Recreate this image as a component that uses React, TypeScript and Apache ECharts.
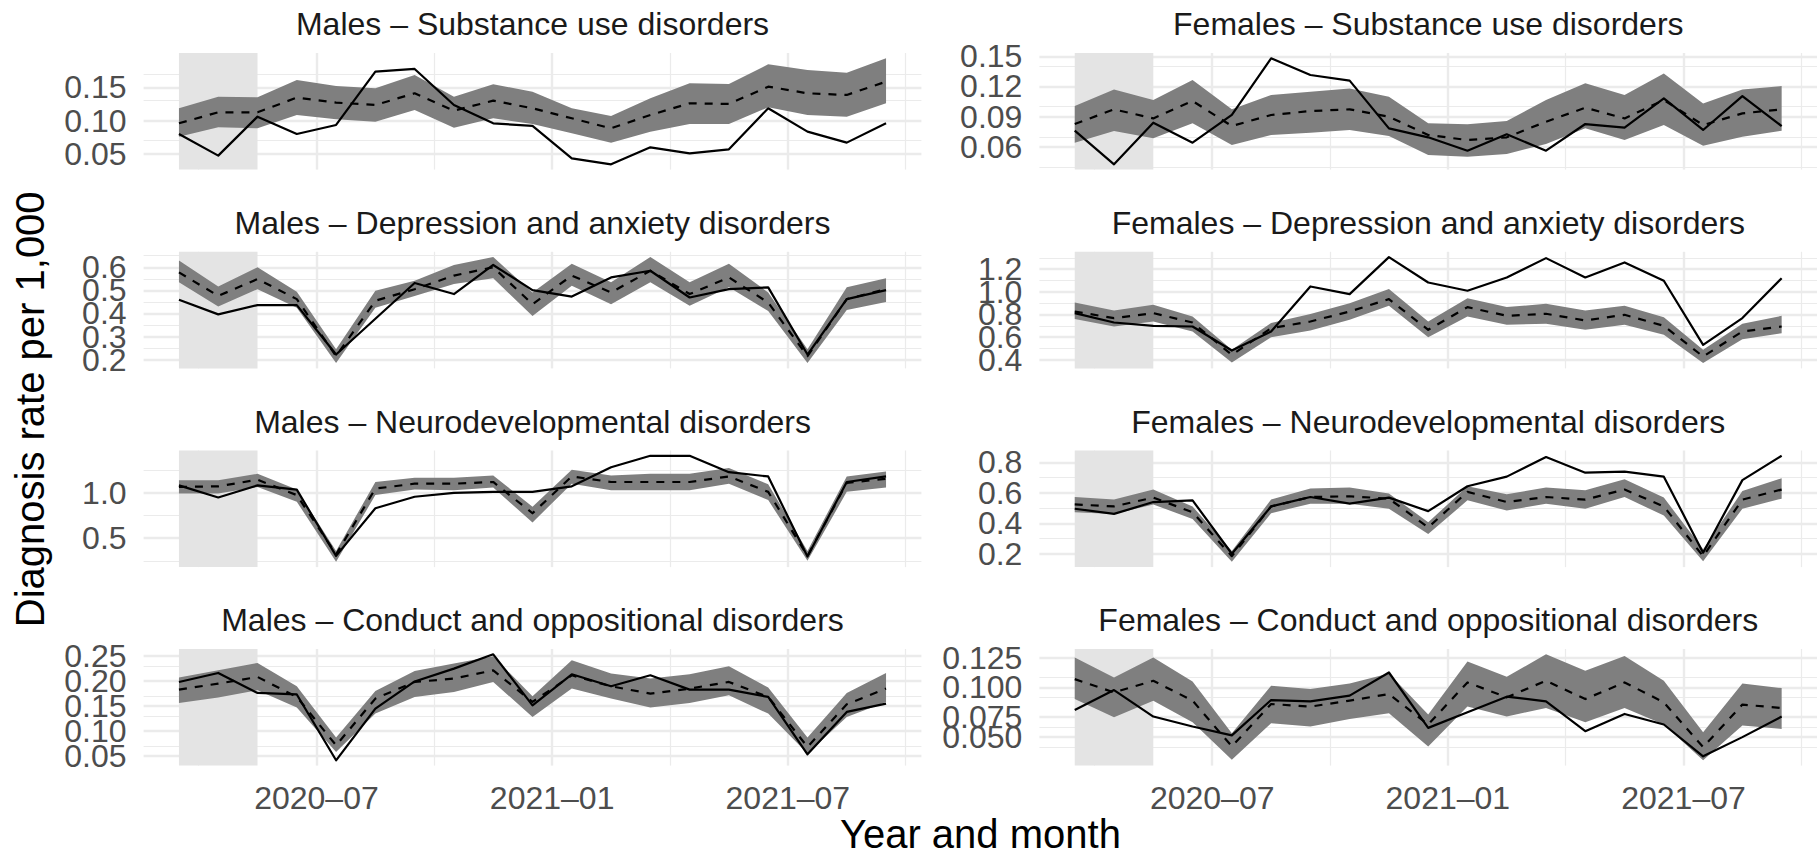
import React, { useEffect, useRef } from "react";
import * as echarts from "echarts";

// ---------- data ----------
const months = [
  "2020-03", "2020-04", "2020-05", "2020-06", "2020-07", "2020-08", "2020-09", "2020-10",
  "2020-11", "2020-12", "2021-01", "2021-02", "2021-03", "2021-04", "2021-05", "2021-06",
  "2021-07", "2021-08", "2021-09",
];
const shadeMonths = ["2020-03", "2020-05"];
const xMajorTicks = ["2020-07", "2021-01", "2021-07"];
const xMinorTicks = ["2020-04", "2020-10", "2021-04", "2021-10"];

const titles = [
  "Males – Substance use disorders",
  "Females – Substance use disorders",
  "Males – Depression and anxiety disorders",
  "Females – Depression and anxiety disorders",
  "Males – Neurodevelopmental disorders",
  "Females – Neurodevelopmental disorders",
  "Males – Conduct and oppositional disorders",
  "Females – Conduct and oppositional disorders",
];

// Males – Substance use
const mSubObs = [0.080, 0.0475, 0.106, 0.080, 0.0935, 0.1735, 0.1775, 0.1235, 0.096, 0.092, 0.0435, 0.0345, 0.060, 0.051, 0.057, 0.1185, 0.0835, 0.067, 0.096];
const mSubExp = [0.096, 0.1125, 0.1125, 0.1345, 0.127, 0.1235, 0.141, 0.115, 0.13, 0.1185, 0.1035, 0.0885, 0.1085, 0.126, 0.125, 0.151, 0.141, 0.1385, 0.1585];
const mSubLo = [0.076, 0.09, 0.0885, 0.1085, 0.102, 0.0985, 0.116, 0.0895, 0.1035, 0.095, 0.081, 0.067, 0.0835, 0.095, 0.095, 0.12, 0.1085, 0.106, 0.126];
const mSubHi = [0.1185, 0.136, 0.135, 0.161, 0.152, 0.1485, 0.1685, 0.136, 0.1545, 0.1435, 0.1185, 0.107, 0.1335, 0.156, 0.155, 0.1845, 0.176, 0.172, 0.1935];
const mSubMajor = [0.05, 0.10, 0.15];
const mSubMinor = [0.075, 0.125, 0.175];

// Females – Substance use
const fSubObs = [0.0761, 0.0427, 0.084, 0.0642, 0.0917, 0.148, 0.1314, 0.1258, 0.0784, 0.0695, 0.0562, 0.0725, 0.0562, 0.0827, 0.0791, 0.1082, 0.0768, 0.1105, 0.0807];
const fSubExp = [0.0827, 0.0973, 0.0883, 0.1056, 0.0807, 0.0917, 0.0956, 0.0973, 0.09, 0.0718, 0.0668, 0.0695, 0.085, 0.0989, 0.0883, 0.1066, 0.0817, 0.0933, 0.0973];
const fSubLo = [0.0642, 0.0758, 0.0685, 0.0834, 0.0619, 0.0718, 0.0741, 0.0768, 0.0708, 0.0519, 0.0503, 0.0529, 0.0629, 0.0784, 0.0668, 0.0817, 0.0612, 0.0701, 0.0761];
const fSubHi = [0.1006, 0.1171, 0.1066, 0.1264, 0.0973, 0.1115, 0.1148, 0.1181, 0.1099, 0.0834, 0.0824, 0.0857, 0.1066, 0.1231, 0.1115, 0.133, 0.1032, 0.1171, 0.1204];
const fSubMajor = [0.06, 0.09, 0.12, 0.15];
const fSubMinor = [0.045, 0.075, 0.105, 0.135];

// Males – Depression and anxiety
const mDepObs = [0.459, 0.396, 0.436, 0.436, 0.222, 0.377, 0.532, 0.484, 0.61, 0.501, 0.473, 0.556, 0.585, 0.469, 0.505, 0.513, 0.222, 0.462, 0.501];
const mDepExp = [0.578, 0.476, 0.549, 0.462, 0.215, 0.455, 0.505, 0.564, 0.6, 0.44, 0.564, 0.491, 0.585, 0.484, 0.556, 0.447, 0.215, 0.462, 0.505];
const mDepLo = [0.535, 0.43, 0.505, 0.425, 0.185, 0.425, 0.476, 0.527, 0.552, 0.389, 0.52, 0.44, 0.535, 0.433, 0.513, 0.411, 0.185, 0.415, 0.45];
const mDepHi = [0.629, 0.517, 0.6, 0.494, 0.245, 0.498, 0.542, 0.61, 0.644, 0.491, 0.615, 0.535, 0.644, 0.535, 0.615, 0.491, 0.245, 0.513, 0.552];
const mDepMajor = [0.2, 0.3, 0.4, 0.5, 0.6];
const mDepMinor = [0.25, 0.35, 0.45, 0.55, 0.65];

// Females – Depression and anxiety
const fDepObs = [0.812, 0.729, 0.7, 0.694, 0.482, 0.65, 1.047, 0.979, 1.306, 1.082, 1.009, 1.126, 1.297, 1.126, 1.259, 1.097, 0.532, 0.768, 1.12];
const fDepExp = [0.826, 0.768, 0.812, 0.729, 0.444, 0.679, 0.738, 0.826, 0.935, 0.665, 0.865, 0.788, 0.806, 0.747, 0.797, 0.7, 0.429, 0.65, 0.694];
const fDepLo = [0.759, 0.694, 0.738, 0.65, 0.376, 0.6, 0.659, 0.753, 0.876, 0.6, 0.782, 0.709, 0.718, 0.665, 0.709, 0.62, 0.371, 0.582, 0.635];
const fDepHi = [0.906, 0.835, 0.885, 0.782, 0.488, 0.724, 0.803, 0.9, 1.024, 0.738, 0.944, 0.865, 0.894, 0.835, 0.876, 0.776, 0.488, 0.718, 0.788];
const fDepMajor = [0.4, 0.6, 0.8, 1.0, 1.2];
const fDepMinor = [0.5, 0.7, 0.9, 1.1, 1.3];

// Males – Neurodevelopmental
const mNeuObs = [1.083, 0.949, 1.083, 1.036, 0.304, 0.83, 0.957, 1.0, 1.011, 1.011, 1.072, 1.283, 1.409, 1.409, 1.228, 1.181, 0.297, 1.12, 1.181];
const mNeuExp = [1.065, 1.072, 1.145, 0.975, 0.322, 1.047, 1.101, 1.101, 1.12, 0.775, 1.181, 1.12, 1.12, 1.12, 1.181, 1.011, 0.304, 1.109, 1.156];
const mNeuLo = [0.993, 0.993, 1.065, 0.902, 0.239, 0.975, 1.036, 1.029, 1.058, 0.674, 1.101, 1.029, 1.029, 1.029, 1.101, 0.92, 0.25, 1.011, 1.058];
const mNeuHi = [1.138, 1.138, 1.21, 1.036, 0.359, 1.12, 1.167, 1.167, 1.192, 0.848, 1.254, 1.192, 1.21, 1.21, 1.275, 1.094, 0.359, 1.181, 1.236];
const mNeuMajor = [0.5, 1.0];
const mNeuMinor = [0.25, 0.75, 1.25];

// Females – Neurodevelopmental
const fNeuObs = [0.496, 0.462, 0.54, 0.551, 0.2, 0.511, 0.573, 0.529, 0.569, 0.48, 0.644, 0.707, 0.836, 0.733, 0.74, 0.707, 0.207, 0.684, 0.844];
const fNeuExp = [0.524, 0.511, 0.569, 0.473, 0.184, 0.511, 0.573, 0.578, 0.562, 0.373, 0.607, 0.54, 0.573, 0.556, 0.622, 0.511, 0.184, 0.556, 0.622];
const fNeuLo = [0.473, 0.462, 0.524, 0.429, 0.147, 0.467, 0.529, 0.529, 0.496, 0.329, 0.551, 0.484, 0.529, 0.496, 0.573, 0.451, 0.151, 0.496, 0.562];
const fNeuHi = [0.573, 0.556, 0.622, 0.511, 0.218, 0.556, 0.629, 0.636, 0.596, 0.407, 0.644, 0.591, 0.636, 0.618, 0.689, 0.569, 0.229, 0.613, 0.696];
const fNeuMajor = [0.2, 0.4, 0.6, 0.8];
const fNeuMinor = [0.3, 0.5, 0.7];

// Males – Conduct and oppositional
const mConObs = [0.198, 0.216, 0.176, 0.173, 0.0413, 0.1447, 0.199, 0.2247, 0.2533, 0.1513, 0.2133, 0.1893, 0.2113, 0.1827, 0.1827, 0.168, 0.0533, 0.138, 0.1547];
const mConExp = [0.1827, 0.1947, 0.208, 0.168, 0.0713, 0.1647, 0.198, 0.2047, 0.2213, 0.158, 0.2113, 0.1893, 0.1747, 0.1847, 0.198, 0.168, 0.068, 0.1533, 0.1847];
const mConLo = [0.156, 0.1667, 0.1813, 0.1467, 0.058, 0.1347, 0.168, 0.178, 0.198, 0.128, 0.1847, 0.1647, 0.1467, 0.156, 0.1713, 0.1347, 0.0547, 0.128, 0.158];
const mConHi = [0.2067, 0.2213, 0.236, 0.1893, 0.0867, 0.18, 0.22, 0.2347, 0.2493, 0.1693, 0.2413, 0.2147, 0.2047, 0.2133, 0.2293, 0.1867, 0.0867, 0.176, 0.216];
const mConMajor = [0.05, 0.10, 0.15, 0.20, 0.25];
const mConMinor = [0.075, 0.125, 0.175, 0.225];

// Females – Conduct and oppositional
const fConObs = [0.0773, 0.0973, 0.0707, 0.0607, 0.0517, 0.0873, 0.086, 0.0917, 0.115, 0.0593, 0.075, 0.0907, 0.086, 0.056, 0.0733, 0.0627, 0.0307, 0.05, 0.0707];
const fConExp = [0.1083, 0.095, 0.1067, 0.0867, 0.0407, 0.0833, 0.0807, 0.0867, 0.0933, 0.0627, 0.105, 0.09, 0.1067, 0.0883, 0.105, 0.085, 0.04, 0.0827, 0.0793];
const fConLo = [0.0883, 0.07, 0.0867, 0.065, 0.0273, 0.064, 0.0607, 0.0683, 0.074, 0.0407, 0.0807, 0.0707, 0.0793, 0.065, 0.0793, 0.0627, 0.0267, 0.0617, 0.0583];
const fConHi = [0.13, 0.11, 0.13, 0.106, 0.054, 0.1017, 0.0983, 0.104, 0.114, 0.0727, 0.126, 0.1107, 0.1333, 0.1167, 0.1317, 0.1067, 0.055, 0.104, 0.0993];
const fConMajor = [0.05, 0.075, 0.1, 0.125];
const fConMinor = [0.0375, 0.0625, 0.0875, 0.1125];

const yDecimals = [2, 2, 1, 1, 1, 1, 2, 3];

// ---------- layout / style ----------
const FONT = '"Liberation Sans", Arial, Helvetica, sans-serif';
const GRID_COLOR = "#EBEBEB";
const TICK_COLOR = "#4D4D4D";
const colLeft = [143.6, 1039.4];
const panelW = 777.8;
const rowTop = [53, 251.8, 450.5, 649];
const panelH = 116.6;

const monthToX = (s: string) => {
  const [y, m] = s.split("-").map(Number);
  return (y - 2020) * 12 + (m - 1);
};
const xToLabel = (v: number) => {
  const r = Math.round(v);
  const y = 2020 + Math.floor(r / 12);
  const m = r - (y - 2020) * 12 + 1;
  return `${y}–${String(m).padStart(2, "0")}`;
};

function buildOption() {
  const panels = [
    { obs: mSubObs, exp: mSubExp, lo: mSubLo, hi: mSubHi, major: mSubMajor, minor: mSubMinor },
    { obs: fSubObs, exp: fSubExp, lo: fSubLo, hi: fSubHi, major: fSubMajor, minor: fSubMinor },
    { obs: mDepObs, exp: mDepExp, lo: mDepLo, hi: mDepHi, major: mDepMajor, minor: mDepMinor },
    { obs: fDepObs, exp: fDepExp, lo: fDepLo, hi: fDepHi, major: fDepMajor, minor: fDepMinor },
    { obs: mNeuObs, exp: mNeuExp, lo: mNeuLo, hi: mNeuHi, major: mNeuMajor, minor: mNeuMinor },
    { obs: fNeuObs, exp: fNeuExp, lo: fNeuLo, hi: fNeuHi, major: fNeuMajor, minor: fNeuMinor },
    { obs: mConObs, exp: mConExp, lo: mConLo, hi: mConHi, major: mConMajor, minor: mConMinor },
    { obs: fConObs, exp: fConExp, lo: fConLo, hi: fConHi, major: fConMajor, minor: fConMinor },
  ];

  const xs = months.map((m) => monthToX(m) + 0.5);
  const xSpan = xs[xs.length - 1] - xs[0];
  const xMin = xs[0] - 0.05 * xSpan;
  const xMax = xs[xs.length - 1] + 0.05 * xSpan;
  const xMajor = xMajorTicks.map(monthToX);
  const xMinor = xMinorTicks.map(monthToX);
  const shadeFrom = monthToX(shadeMonths[0]) + 0.5;
  const shadeTo = monthToX(shadeMonths[1]) + 0.5;

  const grid: any[] = [];
  const xAxis: any[] = [];
  const yAxis: any[] = [];
  const series: any[] = [];
  const graphic: any[] = [];

  panels.forEach((p, i) => {
    const row = Math.floor(i / 2);
    const col = i % 2;
    grid.push({ left: colLeft[col], top: rowTop[row], width: panelW, height: panelH, containLabel: false });

    const all = [...p.obs, ...p.exp, ...p.lo, ...p.hi];
    const lo = Math.min(...all);
    const hi = Math.max(...all);
    const yMin = lo - 0.05 * (hi - lo);
    const yMax = hi + 0.05 * (hi - lo);

    xAxis.push({
      type: "value",
      gridIndex: i,
      min: xMin,
      max: xMax,
      axisLine: { show: false },
      axisTick: { show: false },
      splitLine: { show: false },
      axisLabel:
        row === 3
          ? {
              show: true,
              customValues: xMajor,
              formatter: (v: number) => xToLabel(v),
              color: TICK_COLOR,
              fontSize: 32,
              fontFamily: FONT,
              margin: 16,
            }
          : { show: false },
    });
    const dec = yDecimals[i];
    yAxis.push({
      type: "value",
      gridIndex: i,
      min: yMin,
      max: yMax,
      axisLine: { show: false },
      axisTick: { show: false },
      splitLine: { show: false },
      axisLabel: { show: false },
    });

    const gl = (w: number) => ({ color: GRID_COLOR, width: w, type: "solid", opacity: 1 });
    series.push({
      type: "line",
      xAxisIndex: i,
      yAxisIndex: i,
      data: [],
      z: 1,
      silent: true,
      markLine: {
        z: 1,
        silent: true,
        symbol: ["none", "none"],
        label: { show: false },
        animation: false,
        emphasis: { disabled: true },
        data: [
          ...xMinor.map((v) => ({ xAxis: v, lineStyle: gl(1.2) })),
          ...p.minor.map((v) => ({ yAxis: v, lineStyle: gl(1.2) })),
          ...xMajor.map((v) => ({ xAxis: v, lineStyle: gl(2.4) })),
          // major horizontal grid lines carry the y tick labels (all shown, as in the reference)
          ...p.major.map((v) => ({
            yAxis: v,
            lineStyle: gl(2.4),
            label: {
              show: true,
              position: "start",
              distance: 17,
              formatter: v.toFixed(dec),
              color: TICK_COLOR,
              fontSize: 32,
              fontFamily: FONT,
            },
          })),
        ],
      },
    });
    series.push({
      type: "line",
      xAxisIndex: i,
      yAxisIndex: i,
      data: [],
      z: 2,
      silent: true,
      markArea: {
        z: 2,
        silent: true,
        animation: false,
        itemStyle: { color: "#E4E4E4", opacity: 1 },
        label: { show: false },
        emphasis: { disabled: true },
        data: [[{ xAxis: shadeFrom }, { xAxis: shadeTo }]],
      },
    });
    // ribbon (confidence band) drawn as one polygon through the axis scales
    series.push({
      type: "custom",
      xAxisIndex: i,
      yAxisIndex: i,
      data: xs.map((x, k) => [x, p.lo[k], p.hi[k]]),
      encode: { x: 0, y: [1, 2] },
      z: 3,
      silent: true,
      clip: true,
      renderItem: (params: any, api: any) => {
        if (params.dataIndex !== 0) return null;
        const top = xs.map((x, k) => api.coord([x, p.hi[k]]));
        const bot = xs.map((x, k) => api.coord([x, p.lo[k]])).reverse();
        return {
          type: "polygon",
          shape: { points: [...top, ...bot] },
          style: { fill: "#7F7F7F", stroke: null },
          silent: true,
        };
      },
    });
    series.push({
      type: "line",
      xAxisIndex: i,
      yAxisIndex: i,
      data: xs.map((x, k) => [x, p.exp[k]]),
      symbol: "none",
      lineStyle: { color: "#000000", width: 2.2, type: [8, 8], join: "round", cap: "butt" },
      z: 4,
      silent: true,
    });
    series.push({
      type: "line",
      xAxisIndex: i,
      yAxisIndex: i,
      data: xs.map((x, k) => [x, p.obs[k]]),
      symbol: "none",
      lineStyle: { color: "#000000", width: 2.2, join: "round" },
      z: 5,
      silent: true,
    });

    graphic.push({
      type: "text",
      x: colLeft[col] + panelW / 2,
      y: rowTop[row] - 29,
      silent: true,
      style: {
        text: titles[i],
        fontSize: 32,
        fontFamily: FONT,
        fill: "#1A1A1A",
        align: "center",
        verticalAlign: "middle",
      },
    });
  });

  graphic.push({
    type: "text",
    x: 30,
    y: rowTop[0] + (rowTop[3] + panelH - rowTop[0]) / 2,
    rotation: Math.PI / 2,
    silent: true,
    style: {
      text: "Diagnosis rate per 1,000",
      fontSize: 40,
      fontFamily: FONT,
      fill: "#000000",
      align: "center",
      verticalAlign: "middle",
    },
  });
  graphic.push({
    type: "text",
    x: colLeft[0] + (colLeft[1] + panelW - colLeft[0]) / 2,
    y: 834,
    silent: true,
    style: {
      text: "Year and month",
      fontSize: 40,
      lineHeight: 40,
      fontFamily: FONT,
      fill: "#000000",
      align: "center",
      verticalAlign: "middle",
    },
  });

  return {
    animation: false,
    backgroundColor: "#ffffff",
    textStyle: { fontFamily: FONT },
    grid,
    xAxis,
    yAxis,
    series,
    graphic,
  };
}

export default function App() {
  const ref = useRef<HTMLDivElement>(null);
  useEffect(() => {
    if (!ref.current) return;
    const chart = echarts.init(ref.current, null, { renderer: "svg" });
    chart.setOption(buildOption() as any);
    return () => chart.dispose();
  }, []);
  return (
    <div
      ref={ref}
      style={{ position: "fixed", left: 0, top: 0, width: 1817, height: 855, background: "#ffffff" }}
    />
  );
}
